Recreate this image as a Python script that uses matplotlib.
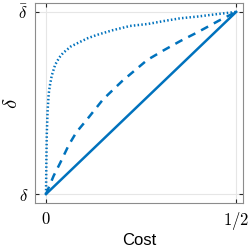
import matplotlib.pyplot as plt

plt.rcParams['mathtext.fontset'] = 'cm'

BLUE = '#0072BD'

# (x = cost, y scaled so delta=0, delta_bar=1)
cost_lin = [0.0, 0.5]
delta_lin = [0.0, 1.0]

cost_dash = [0.0, 0.01, 0.02, 0.037, 0.06, 0.08, 0.108, 0.15, 0.2, 0.266,
             0.31, 0.353, 0.4, 0.458, 0.5]
delta_dash = [0.0, 0.05, 0.1, 0.17, 0.27, 0.34, 0.41, 0.52, 0.62, 0.736,
              0.79, 0.84, 0.89, 0.956, 1.0]

cost_dot = [0.0, 0.001, 0.002, 0.004, 0.007, 0.0105, 0.015, 0.024, 0.035,
            0.045, 0.065, 0.089, 0.11, 0.134, 0.176, 0.221, 0.268, 0.31,
            0.353, 0.4, 0.45, 0.5]
delta_dot = [0.0, 0.2, 0.33, 0.45, 0.55, 0.6, 0.65, 0.71, 0.75,
             0.775, 0.81, 0.835, 0.856, 0.874, 0.90, 0.923, 0.934, 0.95,
             0.965, 0.975, 0.988, 1.0]

xticks = [0, 0.5]
xticklabels = ['$0$', '$1/2$']
yticks = [0, 1]
yticklabels = [r'$\delta$', r'$\bar{\delta}$']

fig = plt.figure(figsize=(2.49, 2.52), dpi=100)
ax = fig.add_axes([35 / 249, 1 - 203 / 252, 208 / 249, 200 / 252])

ax.plot(cost_lin, delta_lin, '-', color=BLUE, lw=1.8)
ax.plot(cost_dash, delta_dash, '--', color=BLUE, lw=1.8, dashes=(3.2, 2.6))
ax.plot(cost_dot, delta_dot, ':', color=BLUE, lw=1.8, dashes=(0.6, 0.9))

ax.set_xlim(-0.029, 0.518)
ax.set_ylim(-0.049, 1.049)
ax.set_xticks(xticks)
ax.set_xticklabels(xticklabels, fontsize=12)
ax.set_yticks(yticks)
ax.set_yticklabels(yticklabels, fontsize=12)
ax.tick_params(direction='in', length=3, color='#262626', top=True,
               right=True, pad=5)
ax.grid(True, color='#e6e6e6', lw=0.8)
for s in ax.spines.values():
    s.set_color('#8c8c8c')
    s.set_linewidth(0.8)

ax.set_xlabel('Cost', fontsize=12, family='Liberation Sans', labelpad=1)
ax.set_ylabel(r'$\delta$', fontsize=15, labelpad=0)
ax.yaxis.set_label_coords(-0.065, 0.5)

fig.savefig('out.png', dpi=100)
